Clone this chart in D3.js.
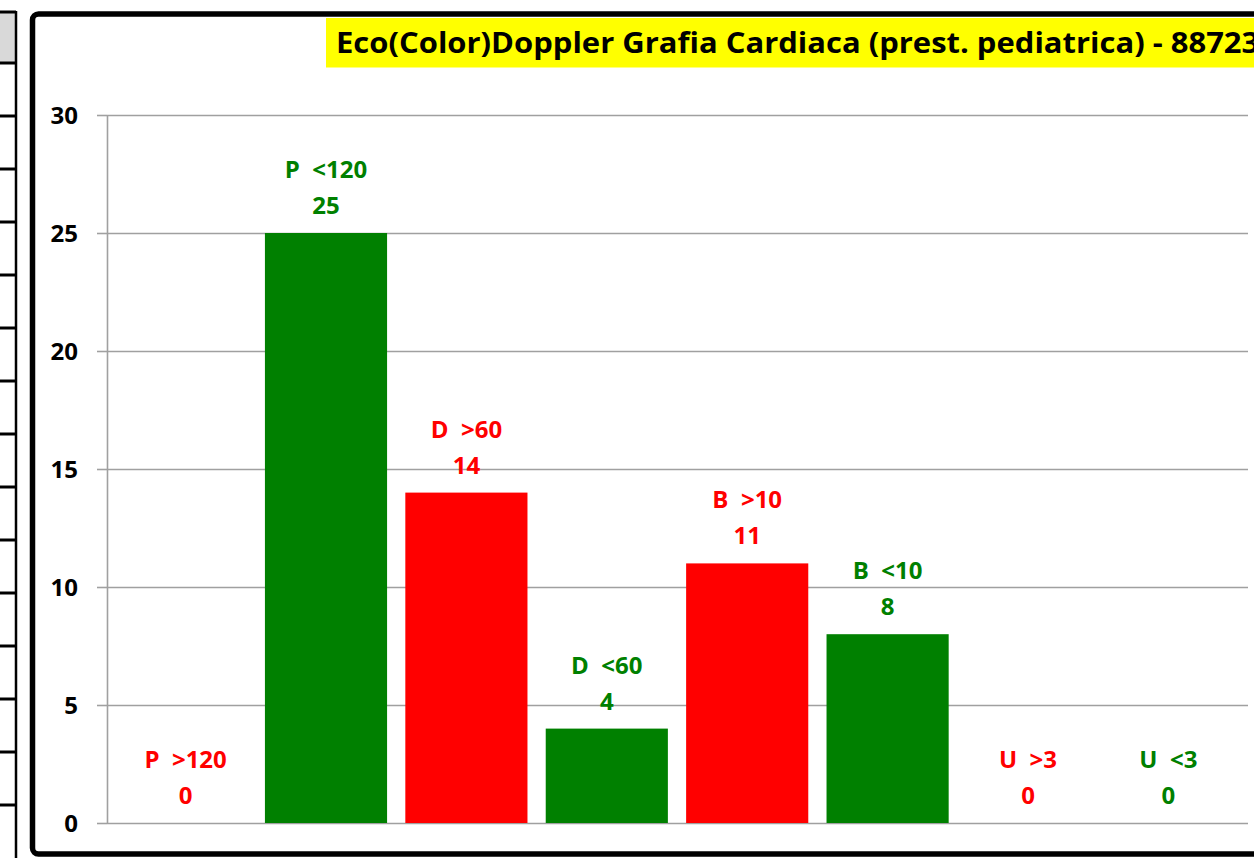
<!DOCTYPE html>
<html>
<head>
<meta charset="utf-8">
<script src="https://cdn.jsdelivr.net/npm/d3@7"></script>
<style>
  html, body { margin: 0; padding: 0; background: #ffffff; }
  svg { display: block; }
  text { font-family: "Open Sans", "Liberation Sans", sans-serif; font-weight: bold; }
</style>
</head>
<body>
<svg id="chart" width="1254" height="858"></svg>
<script>
// Prestazioni: soglie per priorità (P, D, B, U) sopra/sotto i giorni di attesa
const categories = ["P  >120", "P  <120", "D  >60", "D  <60", "B  >10", "B  <10", "U  >3", "U  <3"];
const values = [0, 25, 14, 4, 11, 8, 0, 0];
const yTicks = [0, 5, 10, 15, 20, 25, 30];
const titleText = "Eco(Color)Doppler Grafia Cardiaca (prest. pediatrica) - 88723";

const RED = "#ff0000", GREEN = "#008000";
const colorOf = c => c.includes(">") ? RED : GREEN;

const svg = d3.select("#chart");
svg.append("rect").attr("width", 1254).attr("height", 858).attr("fill", "#fff");

// Left-hand table column (partially visible)
const table = svg.append("g");
table.append("rect").attr("x", -5).attr("y", 12).attr("width", 21).attr("height", 51).attr("fill", "#d9d9d9");
table.append("line").attr("x1", 16).attr("x2", 16).attr("y1", 11).attr("y2", 858)
  .attr("stroke", "#000").attr("stroke-width", 2.5);
const rowLines = d3.range(0, 16).map(k => k === 0 ? 12 : 63 + 53 * (k - 1));
table.selectAll("line.row").data(rowLines).join("line")
  .attr("class", "row")
  .attr("x1", 0).attr("x2", 16).attr("y1", d => d).attr("y2", d => d)
  .attr("stroke", "#000").attr("stroke-width", 3);

// Chart frame
svg.append("rect")
  .attr("x", 32.5).attr("y", 14).attr("width", 1400).attr("height", 840).attr("rx", 6)
  .attr("fill", "#fff").attr("stroke", "#000").attr("stroke-width", 5.5);

// Title banner (runs past the right edge of the frame)
svg.append("rect").attr("x", 326).attr("y", 18).attr("width", 1000).attr("height", 49.5).attr("fill", "#ffff00");
const title = svg.append("text")
  .attr("x", 0).attr("y", 0)
  .attr("font-size", 29).attr("fill", "#000")
  .text(titleText.slice(0, -1));
const prefixW = title.node().getComputedTextLength();
const sx = 906 / prefixW;
title.text(titleText).attr("transform", `translate(336,53) scale(${sx},1)`);

// Scales
const y = d3.scaleLinear().domain([0, 30]).range([823, 115]);
const x = d3.scaleBand().domain(categories).range([115.4, 1238.6]).paddingInner(0.13).paddingOuter(0.065);

const axisX = 107, gridRight = 1248;

// Gridlines
svg.append("g").attr("transform", `translate(${axisX},0)`)
  .call(d3.axisLeft(y).tickValues(yTicks).tickSize(-(gridRight - axisX)).tickFormat(""))
  .call(g => g.select(".domain").remove())
  .call(g => g.selectAll("line").attr("stroke", "#a0a0a0").attr("stroke-width", 1.6));

// Y axis with ticks and labels
svg.append("g").attr("transform", `translate(${axisX},0)`)
  .call(d3.axisLeft(y).tickValues(yTicks).tickSize(10).tickSizeOuter(0).tickPadding(19))
  .call(g => g.select(".domain").attr("stroke", "#a0a0a0").attr("stroke-width", 1.6))
  .call(g => g.selectAll(".tick line").attr("stroke", "#a0a0a0").attr("stroke-width", 1.6))
  .call(g => g.selectAll(".tick text")
    .attr("font-family", "'Open Sans', 'Liberation Sans', sans-serif")
    .attr("font-weight", "bold").attr("font-size", 24).attr("fill", "#000").attr("dy", "0.36em"));

// Bars
svg.append("g").selectAll("rect").data(categories).join("rect")
  .attr("x", d => x(d))
  .attr("width", x.bandwidth())
  .attr("y", (d, i) => y(values[i]))
  .attr("height", (d, i) => y(0) - y(values[i]))
  .attr("fill", d => colorOf(d));

// Data labels: category name and value above each bar
const labels = svg.append("g").selectAll("g").data(categories).join("g")
  .attr("transform", (d, i) => `translate(${x(d) + x.bandwidth() / 2},${y(values[i])})`)
  .attr("fill", d => colorOf(d))
  .attr("text-anchor", "middle")
  .attr("font-size", 24);
labels.append("text").attr("y", -55).style("white-space", "pre").text(d => d);
labels.append("text").attr("y", -19).text((d, i) => values[i]);
</script>
</body>
</html>
